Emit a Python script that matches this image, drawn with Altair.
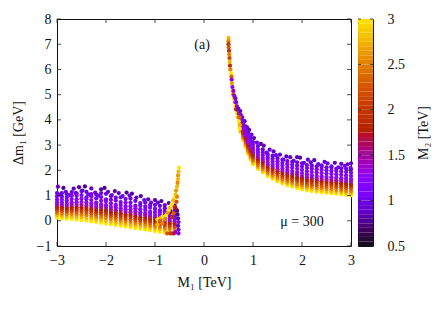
import altair as alt
import pandas as pd

M2_COLS = [3.0, 2.75, 2.5, 2.25, 2.0, 1.75, 1.5, 1.25, 1.15, 1.05, 0.95]
DRAW_ORDER = [10, 9, 8, 0, 1, 2, 3, 4, 5, 6, 7]

LEFT_ROWS = {
    -3.0: [.12,.21,.30,.39,.47,.55,.64,.73,.84,.97,1.10],
    -2.9: [.10,.19,.28,.38,.46,.54,.63,.72,.84,.96,1.10],
    -2.8: [.08,.17,.26,.35,.43,.51,.60,.68,.80,.92,1.05],
    -2.7: [.07,.17,.27,.37,.45,.54,.64,.73,.86,1.00,1.14],
    -2.6: [.05,.15,.25,.35,.44,.53,.63,.73,.85,.99,1.09],
    -2.5: [.03,.14,.24,.35,.44,.53,.64,.74,.87,1.02,1.18],
    -2.4: [.01,.11,.22,.32,.42,.51,.61,.72,.85,.93,1.15],
    -2.3: [-.02,.09,.19,.30,.39,.48,.59,.69,.82,.97,1.06],
    -2.2: [-.05,.05,.15,.25,.34,.43,.53,.63,.72,.89,1.04],
    -2.1: [-.08,.03,.14,.25,.34,.44,.55,.65,.79,.94,1.10],
    -2.0: [-.11,.00,.11,.22,.31,.41,.52,.62,.76,.85,1.07],
    -1.9: [-.14,-.04,.07,.17,.26,.35,.45,.56,.69,.83,.98],
    -1.8: [-.17,-.07,.04,.14,.23,.32,.42,.53,.63,.80,.92],
    -1.7: [-.20,-.10,.01,.11,.20,.29,.40,.50,.63,.74,.93],
    -1.6: [-.23,-.13,-.03,.07,.16,.25,.35,.45,.57,.71,.86],
    -1.5: [-.26,-.16,-.05,.05,.15,.24,.34,.45,.58,.72,.88],
    -1.4: [-.29,-.19,-.09,.01,.09,.18,.28,.38,.50,.60,.79],
    -1.3: [-.32,-.22,-.12,-.03,.06,.14,.24,.34,.46,.60,.70],
    -1.2: [-.35,-.25,-.15,-.05,.03,.12,.22,.31,.44,.57,.72],
    -1.1: [-.38,-.28,-.19,-.09,-.01,.08,.17,.27,.36,.52,.63],
    -1.0: [-.41,-.31,-.22,-.12,-.04,.04,.14,.23,.35,.48,.63],
    -0.9: [-.44,-.34,-.25,-.15,-.07,.01,.11,.20,.32,.42,.59],
    -0.8: [-.47,-.38,-.29,-.20,-.12,-.04,.05,.13,.25,.37,.50],
    -0.7: [-.50,-.41,-.32,-.24,-.16,-.08,.01,.09,.20,.33,.46],
    -0.6: [-.50,-.42,-.33,-.25,-.17,-.10,-.02,.07,.17,.29,.41],
}

RIGHT_ROWS = {
    0.75: [3.50,3.56,3.61,3.68,3.74,3.80,3.87,3.94,4.03,4.12,4.20],
    0.80: [3.20,3.26,3.32,3.39,3.46,3.52,3.59,3.67,3.76,3.85,3.95],
    0.85: [2.92,2.98,3.05,3.12,3.20,3.27,3.35,3.43,3.53,3.64,3.74],
    0.90: [2.65,2.72,2.78,2.86,2.94,3.01,3.09,3.17,3.28,3.38,3.49],
    0.95: [2.43,2.50,2.57,2.65,2.73,2.81,2.89,2.97,3.08,3.19,3.30],
    1.0: [2.24,2.31,2.38,2.46,2.54,2.62,2.70,2.79,2.90,3.01,3.12],
    1.1: [2.05,2.12,2.19,2.28,2.36,2.44,2.52,2.62,2.73,2.84,2.96],
    1.2: [1.91,1.98,2.06,2.14,2.22,2.31,2.39,2.48,2.60,2.71,2.83],
    1.3: [1.77,1.84,1.91,1.99,2.06,2.14,2.22,2.31,2.42,2.52,2.63],
    1.4: [1.66,1.73,1.81,1.89,1.97,2.06,2.14,2.23,2.35,2.46,2.58],
    1.5: [1.57,1.64,1.71,1.80,1.88,1.96,2.04,2.14,2.25,2.36,2.48],
    1.6: [1.48,1.55,1.63,1.72,1.80,1.89,1.97,2.07,2.19,2.30,2.42],
    1.7: [1.41,1.49,1.56,1.65,1.74,1.82,1.91,2.01,2.13,2.25,2.37],
    1.8: [1.35,1.43,1.51,1.60,1.69,1.78,1.87,1.97,2.10,2.22,2.34],
    1.9: [1.29,1.37,1.45,1.55,1.64,1.73,1.83,1.93,2.06,2.19,2.32],
    2.0: [1.24,1.32,1.41,1.50,1.59,1.69,1.78,1.89,2.02,2.15,2.28],
    2.1: [1.21,1.29,1.37,1.46,1.55,1.64,1.73,1.84,1.96,2.09,2.21],
    2.2: [1.18,1.26,1.34,1.43,1.53,1.62,1.71,1.81,1.94,2.07,2.19],
    2.3: [1.15,1.23,1.31,1.40,1.50,1.59,1.68,1.78,1.91,2.04,2.16],
    2.4: [1.13,1.21,1.29,1.38,1.48,1.57,1.66,1.76,1.89,2.02,2.14],
    2.5: [1.11,1.19,1.27,1.36,1.46,1.55,1.64,1.74,1.87,2.00,2.12],
    2.6: [1.09,1.17,1.25,1.35,1.44,1.53,1.62,1.73,1.86,1.98,2.11],
    2.7: [1.07,1.15,1.23,1.33,1.42,1.51,1.61,1.71,1.84,1.97,2.06],
    2.8: [1.05,1.13,1.21,1.31,1.40,1.49,1.59,1.69,1.82,1.95,2.08],
    2.9: [1.03,1.11,1.19,1.29,1.38,1.47,1.57,1.67,1.80,1.93,2.06],
    3.0: [1.01,1.09,1.17,1.27,1.36,1.45,1.55,1.65,1.78,1.91,2.04],
}

# scattered upper edge of both branches (M1, dm, M2)
TOP_EDGE = [
    (-2.98,1.35,.85),(-2.93,1.05,.95),(-2.87,1.3,.75),(-2.82,1.15,.9),(-2.74,1.02,1.0),(-2.66,1.27,.85),
    (-2.62,1.1,.95),(-2.55,1.33,.8),(-2.48,1.2,.9),(-2.43,1.36,.75),(-2.36,1.05,1.0),(-2.3,1.28,.85),
    (-2.22,1.12,.95),(-2.16,1.0,1.0),(-2.1,1.25,.8),(-2.03,1.3,.75),(-1.96,1.15,.9),(-1.88,1.02,1.0),
    (-1.82,1.18,.8),(-1.74,1.1,.85),(-1.66,.98,1.0),(-1.58,1.12,.75),(-1.52,1.0,.95),(-1.47,1.08,.8),
    (-1.38,.92,.9),(-1.29,.98,.8),(-1.22,.82,1.0),(-1.14,.85,.85),(-1.08,.72,1.0),(-1.0,.82,.8),
    (-.94,.72,.9),(-.87,.78,.75),(-.8,.62,.95),(-.72,.7,.8),
    (.78,4.1,.95),(.83,3.95,.9),(.88,3.7,1.0),(.92,3.6,.85),(.97,3.42,.95),
    (1.02,3.28,.85),(1.08,3.1,.95),(1.16,3.05,.8),(1.22,2.98,.85),(1.28,2.7,1.0),(1.34,2.82,.9),
    (1.42,2.75,.85),(1.47,2.6,1.0),(1.55,2.62,.9),(1.62,2.42,1.05),(1.68,2.55,.85),(1.76,2.52,.9),
    (1.83,2.38,1.0),(1.9,2.52,.85),(1.96,2.5,.8),(2.04,2.3,1.0),(2.12,2.42,.9),(2.18,2.32,.95),
    (2.25,2.4,.85),(2.33,2.25,1.0),(2.4,2.2,1.05),(2.46,2.34,.9),(2.52,2.28,.95),(2.6,2.16,1.05),
    (2.67,2.3,.85),(2.74,2.12,1.05),(2.8,2.26,.9),(2.87,2.18,1.0),(2.93,2.24,.85),(2.99,2.1,1.05),(3.0,2.28,.9),
]

# (M1, dm, M2) points of the narrow tip and of the left-hand tail
EXTRA = [
    (.5,7.25,2.75),(.5,7.12,2.5),(.5,7.0,2.0),(.505,6.87,2.3),(.51,6.74,1.9),(.515,6.6,2.5),
    (.52,6.45,2.1),(.525,6.3,2.75),(.53,6.15,1.9),(.54,6.0,2.5),(.55,5.85,3.0),(.56,5.72,2.3),
    (.565,5.6,1.3),(.57,5.45,2.6),(.58,5.3,1.2),(.585,5.15,2.9),(.6,5.0,2.1),(.6,5.15,1.4),
    (.61,4.85,3.0),(.62,4.95,1.2),(.63,4.7,2.5),(.64,4.85,1.0),(.64,4.55,3.0),(.655,4.7,1.0),
    (.65,4.42,2.1),(.67,4.55,1.4),(.67,4.25,3.0),(.68,4.4,1.8),(.7,4.45,.9),(.69,4.1,2.75),
    (.71,4.25,1.5),(.71,3.95,3.0),(.72,4.1,2.3),(.73,3.8,2.75),(.74,4.35,.9),(.73,3.65,3.0),
    (-.52,-.5,1.1),(-.52,-.35,1.0),(-.53,-.2,.9),(-.52,-.05,1.1),(-.53,.1,.8),(-.54,.25,.75),
    (-.55,.4,.7),(-.58,-.45,1.3),(-.62,-.5,1.6),(-.68,-.5,2.0),(-.75,-.5,2.2),(-.6,.6,.7),(-.68,.35,.75),
    (-.6,.55,2.0),(-.62,.3,2.3),(-.65,.15,1.9),(-.58,.5,1.7),
    (-.51,2.1,3.0),(-.52,1.95,2.75),(-.53,1.8,2.6),(-.53,1.65,2.75),(-.54,1.5,2.5),(-.55,1.35,2.75),
    (-.57,1.2,2.6),(-.58,1.05,2.8),(-.6,.9,3.0),(-.63,.8,2.75),(-.55,.95,2.5),(-.56,.75,2.2),
    (-.66,.65,3.0),(-.7,.5,2.75),(-.72,.4,3.0),(-.75,.3,2.6),(-.78,.2,3.0),(-.85,.15,3.0),
    (-.9,.1,2.75),(-.95,.05,3.0),(-.8,.05,2.5),(-.85,-.1,2.5),(-.95,-.15,2.75),(-.9,.0,2.3),
]

PAL_STOPS = [0.5, 0.625, 0.75, 0.875, 1.0, 1.125, 1.25, 1.5, 1.625, 1.75, 2.0, 2.25, 2.5, 2.75, 3.0]
PAL_COLORS = ["#1a0a20", "#390050", "#510096", "#6201CE", "#7202F2", "#8004FF", "#8C07F2",
              "#A11096", "#AB1750", "#B42000", "#C53700", "#D55700", "#E48300", "#F2BA00", "#FFE800"]

BAR_LO = [.5,.55,.6,.65,.7,.75,.8,.85,.9,.95,1.0,1.05,1.1,1.15,1.2,1.25,1.3,1.35,1.4,1.45,1.5,1.55,1.6,1.65,1.7,
          1.75,1.8,1.85,1.9,1.95,2.0,2.05,2.1,2.15,2.2,2.25,2.3,2.35,2.4,2.45,2.5,2.55,2.6,2.65,2.7,2.75,2.8,2.85,2.9,2.95]
BAR_HI = [.55,.6,.65,.7,.75,.8,.85,.9,.95,1.0,1.05,1.1,1.15,1.2,1.25,1.3,1.35,1.4,1.45,1.5,1.55,1.6,1.65,1.7,1.75,
          1.8,1.85,1.9,1.95,2.0,2.05,2.1,2.15,2.2,2.25,2.3,2.35,2.4,2.45,2.5,2.55,2.6,2.65,2.7,2.75,2.8,2.85,2.9,2.95,3.0]

X_TICKS = [-3, -2, -1, 0, 1, 2, 3]
Y_TICKS = [-1, 0, 1, 2, 3, 4, 5, 6, 7, 8]
BAR_TICKS = [0.5, 1, 1.5, 2, 2.5, 3]

PANEL_W, PANEL_H = 294, 227
FONT = "Liberation Serif"

rows = [{"M1": a, "dm": b, "M2": c} for a, b, c in TOP_EDGE]
for col in DRAW_ORDER:
    for table in (LEFT_ROWS, RIGHT_ROWS):
        for m1, vals in table.items():
            rows.append({"M1": m1, "dm": vals[col], "M2": M2_COLS[col]})
rows += [{"M1": a, "dm": b, "M2": c} for a, b, c in EXTRA]
points = pd.DataFrame(rows)

x_scale = alt.Scale(domain=[-3, 3], nice=False, zero=False)
y_scale = alt.Scale(domain=[-1, 8], nice=False, zero=False)
color_scale = alt.Scale(domain=PAL_STOPS, range=PAL_COLORS)

x_axis = alt.Axis(values=X_TICKS, title="M₁ [TeV]", grid=False, ticks=False, domain=False,
                  labelPadding=7, titlePadding=8, labelFlush=False, labelOverlap=False)
y_axis = alt.Axis(values=Y_TICKS, title="Δm₁ [GeV]", grid=False, ticks=False, domain=False,
                  labelPadding=6, titlePadding=11, labelOverlap=False)

dots = alt.Chart(points).mark_circle(size=18, opacity=1, clip=False).encode(
    x=alt.X("M1:Q", scale=x_scale, axis=x_axis),
    y=alt.Y("dm:Q", scale=y_scale, axis=y_axis),
    color=alt.Color("M2:Q", scale=color_scale, legend=None),
)

xt = pd.DataFrame({"v": X_TICKS})
yt = pd.DataFrame({"v": Y_TICKS})
tick_color = "#222222"
x_bottom = alt.Chart(xt).mark_rule(color=tick_color, strokeWidth=0.8).encode(
    x=alt.X("v:Q", scale=x_scale, axis=x_axis), y=alt.value(PANEL_H), y2=alt.value(PANEL_H - 4))
x_top = alt.Chart(xt).mark_rule(color=tick_color, strokeWidth=0.8).encode(
    x=alt.X("v:Q", scale=x_scale, axis=x_axis), y=alt.value(0), y2=alt.value(4))
y_left = alt.Chart(yt).mark_rule(color=tick_color, strokeWidth=0.8).encode(
    y=alt.Y("v:Q", scale=y_scale, axis=y_axis), x=alt.value(0), x2=alt.value(4))
y_right = alt.Chart(yt).mark_rule(color=tick_color, strokeWidth=0.8).encode(
    y=alt.Y("v:Q", scale=y_scale, axis=y_axis), x=alt.value(PANEL_W), x2=alt.value(PANEL_W - 4))

notes = pd.DataFrame({"M1": [-0.04, 2.0], "dm": [6.95, -0.03], "t": ["(a)", "μ = 300"]})
labels = alt.Chart(notes).mark_text(font=FONT, fontSize=14, color="#111111").encode(
    x=alt.X("M1:Q", scale=x_scale, axis=x_axis),
    y=alt.Y("dm:Q", scale=y_scale, axis=y_axis),
    text="t:N",
)

main = alt.layer(dots, x_bottom, x_top, y_left, y_right, labels).properties(width=PANEL_W, height=PANEL_H)

bar_scale = alt.Scale(domain=[0.5, 3], nice=False, zero=False)
bar_axis = alt.Axis(
    orient="right", values=BAR_TICKS, format="~g", title="M₂ [TeV]", titleAngle=270,
    grid=False, ticks=False, domain=False, labelPadding=14, titlePadding=26,
    labelOverlap=False, titleBaseline="bottom", labelFlush=False)
bar_df = pd.DataFrame({"lo": BAR_LO, "hi": BAR_HI})
bar_df["mid"] = bar_df["lo"]
bar_rect = alt.Chart(bar_df).mark_rect(stroke=None).encode(
    y=alt.Y("lo:Q", scale=bar_scale, axis=bar_axis),
    y2="hi:Q",
    x=alt.value(0), x2=alt.value(15),
    color=alt.Color("mid:Q", scale=color_scale, legend=None),
)
bt = pd.DataFrame({"v": BAR_TICKS})
bar_l = alt.Chart(bt).mark_rule(color=tick_color, strokeWidth=0.8).encode(
    y=alt.Y("v:Q", scale=bar_scale, axis=bar_axis), x=alt.value(0), x2=alt.value(3))
bar_r = alt.Chart(bt).mark_rule(color=tick_color, strokeWidth=0.8).encode(
    y=alt.Y("v:Q", scale=bar_scale, axis=bar_axis), x=alt.value(12), x2=alt.value(15))
bar = alt.layer(bar_rect, bar_l, bar_r).properties(width=15, height=PANEL_H)

chart = alt.hconcat(main, bar, spacing=2).resolve_scale(color="independent", x="independent", y="independent").properties(
    padding={"left": 2, "top": 3, "right": 0, "bottom": 0}, background="white"
).configure_view(stroke="#111111", strokeWidth=1).configure_axis(
    labelFont=FONT, titleFont=FONT, labelFontSize=14, titleFontSize=14,
    labelColor="#111111", titleColor="#111111", titleFontWeight="normal",
)

chart.save("out.html", embed_options={"renderer": "svg", "actions": False})
